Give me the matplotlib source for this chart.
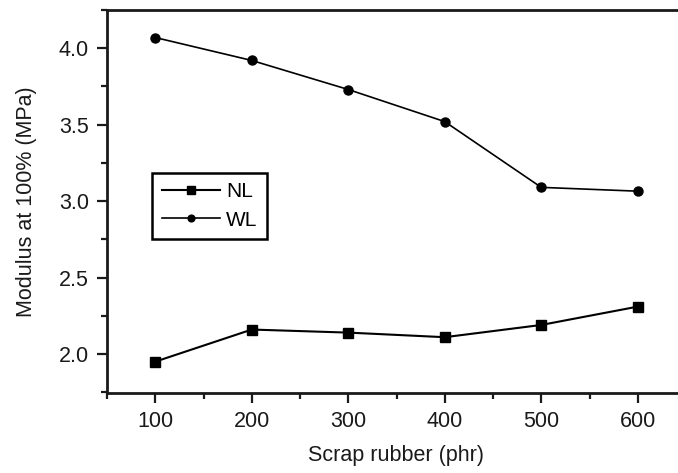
import matplotlib
matplotlib.use("Agg")
import matplotlib.pyplot as plt
from matplotlib.ticker import MultipleLocator, FormatStrFormatter

plt.rcParams['font.family'] = ['Liberation Sans', 'DejaVu Sans']

x = [100, 200, 300, 400, 500, 600]
nl = [1.95, 2.16, 2.14, 2.11, 2.19, 2.31]
wl = [4.07, 3.92, 3.73, 3.52, 3.09, 3.065]

fig = plt.figure(figsize=(6.78, 4.73), dpi=100)
ax = fig.add_axes([107/678, 80/473, 579/678, 383/473])

ax.plot(x, nl, '-', color='black', marker='s', markersize=7, linewidth=1.5, label='NL')
ax.plot(x, wl, '-', color='black', marker='o', markersize=6.5, linewidth=1.2, label='WL')

ax.set_xlim(50, 650)
ax.set_ylim(1.745, 4.25)
ax.xaxis.set_major_locator(MultipleLocator(100))
ax.xaxis.set_minor_locator(MultipleLocator(50))
ax.yaxis.set_major_locator(MultipleLocator(0.5))
ax.yaxis.set_minor_locator(MultipleLocator(0.25))
ax.yaxis.set_major_formatter(FormatStrFormatter('%.1f'))
ax.tick_params(which='major', direction='out', length=7, width=1.6, labelsize=15.5, pad=6, colors='#1a1a1a')
ax.tick_params(which='minor', direction='out', length=4, width=1.6, colors='#1a1a1a')
for s in ax.spines.values():
    s.set_linewidth(2)
    s.set_color('#1a1a1a')

ax.set_xlabel('Scrap rubber (phr)', fontsize=15.5, labelpad=9, color='#1a1a1a')
ax.set_ylabel('Modulus at 100% (MPa)', fontsize=15.5, labelpad=16, color='#1a1a1a')

leg = ax.legend(loc='upper left', bbox_to_anchor=(0.078, 0.575), fancybox=False,
                edgecolor='black', framealpha=1, fontsize=15, handlelength=2.8,
                borderpad=0.45, labelspacing=0.45, handletextpad=0.3, markerscale=0.75,
                borderaxespad=0)
leg.get_frame().set_linewidth(1.8)

fig.savefig('out.png', dpi=100)
